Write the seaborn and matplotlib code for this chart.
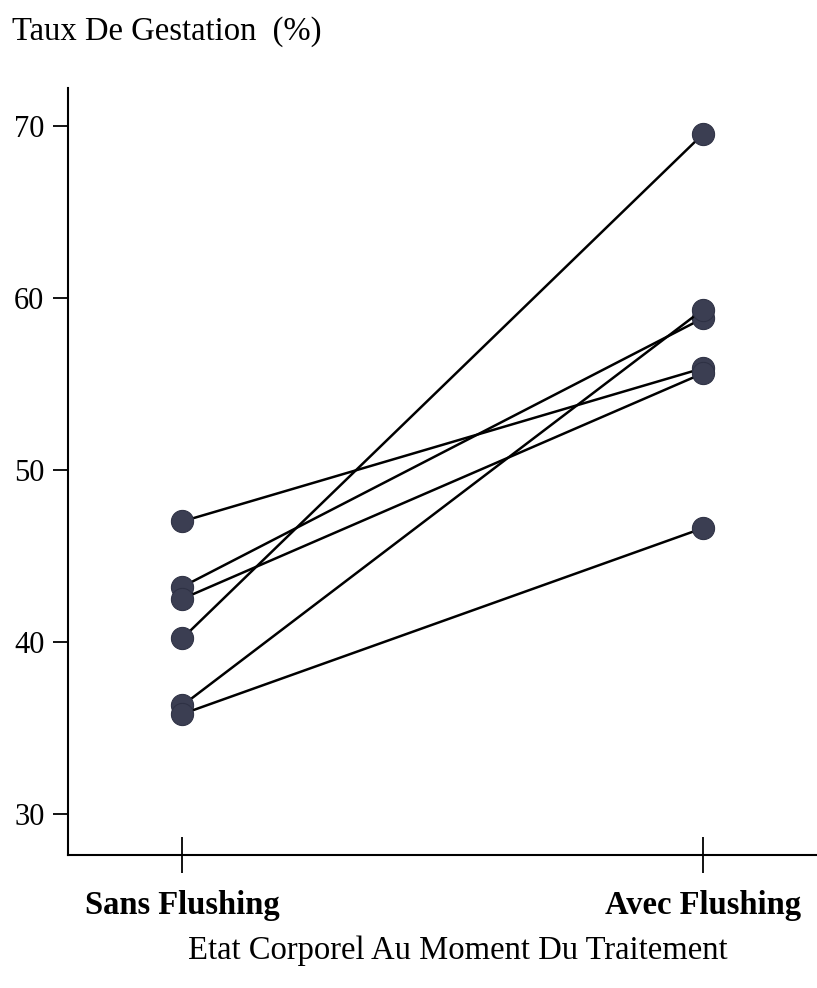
import pandas as pd
import seaborn as sns
import matplotlib.pyplot as plt

# values
groupes = ["Sans Flushing", "Avec Flushing"]
sans_flushing = [47.0, 43.2, 42.5, 40.2, 36.3, 35.8]
avec_flushing = [55.9, 58.8, 55.6, 69.5, 59.3, 46.6]
yticks = [30, 40, 50, 60, 70]

rows = []
for i, (a, b) in enumerate(zip(sans_flushing, avec_flushing)):
    rows.append({"paire": i, "groupe": groupes[0], "taux": a})
    rows.append({"paire": i, "groupe": groupes[1], "taux": b})
data = pd.DataFrame(rows)

sns.set_style("white")
plt.rcParams['font.family'] = ['Liberation Serif', 'DejaVu Serif']
plt.rcParams['text.color'] = 'black'
plt.rcParams['axes.labelcolor'] = 'black'
plt.rcParams['xtick.color'] = 'black'
plt.rcParams['ytick.color'] = 'black'

fig = plt.figure(figsize=(8.17, 9.88), dpi=100)
ax = fig.add_axes([68 / 817, 133 / 988, 1 - 68 / 817, 767 / 988])

sns.lineplot(data=data, x="groupe", y="taux", units="paire", estimator=None,
             color="black", linewidth=1.8, marker="o", markersize=16,
             markerfacecolor="#3b3e52", markeredgecolor="#2e3144",
             sort=False, ax=ax)

ax.set_xlim(-0.22, 1.22)
ax.set_ylim(27.6, 72.2)
ax.set_yticks(yticks)
ax.set_xticks([0, 1])
ax.set_xticklabels(groupes, fontsize=23.5, fontweight="bold")
ax.tick_params(axis="y", direction="out", length=11, width=1.3, labelsize=22,
               left=True, pad=6)
ax.tick_params(axis="x", direction="inout", length=26, width=1.3, bottom=True,
               pad=12)

for s in ["top", "right"]:
    ax.spines[s].set_visible(False)
for s in ["left", "bottom"]:
    ax.spines[s].set_linewidth(1.5)
    ax.spines[s].set_color("black")

ax.set_ylabel("")
ax.set_xlabel("Etat Corporel Au Moment Du Traitement", fontsize=23.5,
              labelpad=26)
ax.xaxis.set_label_coords(0.52, -0.105)

fig.text(12 / 817, 1 - 32 / 988, "Taux De Gestation  (%)", fontsize=23.5,
         va="center", ha="left")

fig.savefig("out.png", dpi=100, facecolor="white")
